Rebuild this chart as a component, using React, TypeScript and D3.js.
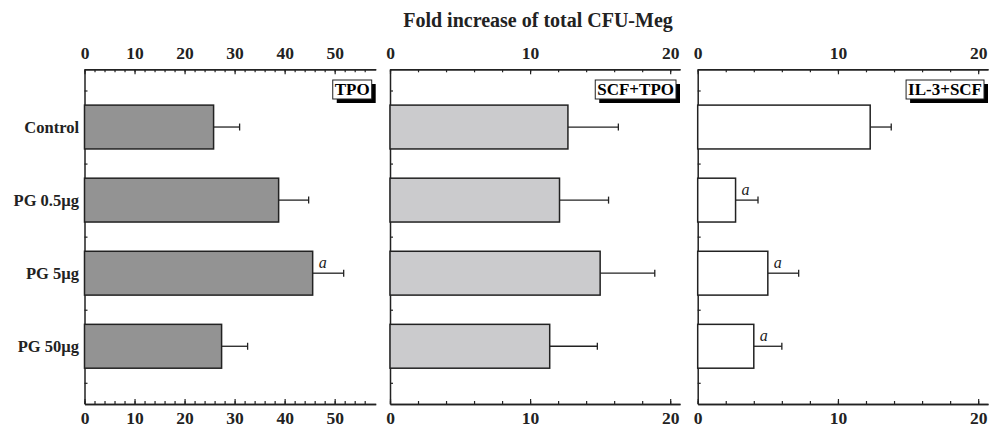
import * as d3 from "d3";
import React, { useEffect, useRef } from "react";

const categories = ["Control", "PG 0.5µg", "PG 5µg", "PG 50µg"];

const tpoMeans = [25.8, 38.8, 45.6, 27.4];
const tpoErrors = [5.2, 6.0, 6.2, 5.2];
const tpoSig = [false, false, true, false];

const scfTpoMeans = [12.7, 12.1, 15.0, 11.4];
const scfTpoErrors = [3.6, 3.5, 3.9, 3.4];
const scfTpoSig = [false, false, false, false];

const il3ScfMeans = [12.3, 2.7, 5.0, 4.0];
const il3ScfErrors = [1.5, 1.6, 2.2, 2.0];
const il3ScfSig = [false, true, true, true];

const tpoMajor = [0, 10, 20, 30, 40, 50];
const tpoMinor = d3.range(0, 58, 2);
const smallMajor = [0, 10, 20];
const smallMinor = d3.range(0, 21, 2);

const title = "Fold increase of total CFU-Meg";

type Panel = {
  label: string;
  means: number[];
  errors: number[];
  sig: boolean[];
  fill: string;
  domain: [number, number];
  range: [number, number];
  major: number[];
  minor: number[];
};

const panels: Panel[] = [
  { label: "TPO", means: tpoMeans, errors: tpoErrors, sig: tpoSig, fill: "#939393",
    domain: [0, 58.2], range: [84.5, 375.7], major: tpoMajor, minor: tpoMinor },
  { label: "SCF+TPO", means: scfTpoMeans, errors: scfTpoErrors, sig: scfTpoSig, fill: "#cbcbcd",
    domain: [0, 20.7], range: [390, 680], major: smallMajor, minor: smallMinor },
  { label: "IL-3+SCF", means: il3ScfMeans, errors: il3ScfErrors, sig: il3ScfSig, fill: "#ffffff",
    domain: [0, 20.7], range: [697.7, 988], major: smallMajor, minor: smallMinor },
];

const serif = "'Liberation Serif', 'DejaVu Serif', serif";
const ink = "#222";

const App: React.FC = () => {
  const svgRef = useRef<SVGSVGElement>(null);

  useEffect(() => {
    const svg = d3.select(svgRef.current);
    svg.selectAll("*").remove();

    const top = 69.3;
    const bottom = 404;
    const y = d3.scaleLinear().domain([0.21, 4.79]).range([top, bottom]);
    const half = 0.3;

    svg
      .append("text")
      .attr("x", 538)
      .attr("y", 27)
      .attr("text-anchor", "middle")
      .attr("font-family", serif)
      .attr("font-weight", "bold")
      .attr("font-size", 20)
      .attr("fill", ink)
      .text(title);

    // category labels
    svg
      .append("g")
      .selectAll("text")
      .data(categories)
      .join("text")
      .attr("x", 79)
      .attr("y", (_, i) => y(i + 1))
      .attr("dy", "0.35em")
      .attr("text-anchor", "end")
      .attr("font-family", serif)
      .attr("font-weight", "bold")
      .attr("font-size", 16.5)
      .attr("fill", ink)
      .text((d) => d);

    panels.forEach((p) => {
      const x = d3.scaleLinear().domain(p.domain).range(p.range);
      const g = svg.append("g");

      const styleAxis = (a: d3.Selection<SVGGElement, unknown, null, undefined>) => {
        a.select(".domain").attr("stroke", ink).attr("stroke-width", 1.5);
        a.selectAll(".tick line").attr("stroke", ink).attr("stroke-width", 1.2);
        a.selectAll(".tick text")
          .attr("font-family", serif)
          .attr("font-weight", "bold")
          .attr("font-size", 17.5)
          .attr("fill", ink);
      };

      // minor ticks
      g.append("g")
        .attr("transform", `translate(0,${top})`)
        .call(d3.axisTop(x).tickValues(p.minor).tickSize(-3).tickSizeOuter(0).tickFormat(() => ""))
        .call(styleAxis);
      g.append("g")
        .attr("transform", `translate(0,${bottom})`)
        .call(d3.axisBottom(x).tickValues(p.minor).tickSize(-3).tickSizeOuter(0).tickFormat(() => ""))
        .call(styleAxis);
      // major ticks
      g.append("g")
        .attr("transform", `translate(0,${top})`)
        .call(d3.axisTop(x).tickValues(p.major).tickSize(-5).tickSizeOuter(0).tickPadding(10).tickFormat(d3.format("d")))
        .call(styleAxis);
      g.append("g")
        .attr("transform", `translate(0,${bottom})`)
        .call(d3.axisBottom(x).tickValues(p.major).tickSize(-5).tickSizeOuter(0).tickPadding(8).tickFormat(d3.format("d")))
        .call(styleAxis);
      // left axis
      g.append("g")
        .attr("transform", `translate(${p.range[0]},0)`)
        .call(d3.axisLeft(y).tickValues(d3.range(0.5, 4.6, 0.5)).tickSize(-3).tickSizeOuter(0).tickFormat(() => ""))
        .call(styleAxis);

      // error bars
      const eb = g.append("g").attr("stroke", ink).attr("stroke-width", 1.3);
      p.means.forEach((m, i) => {
        const cy = y(i + 1);
        const xe = x(m + p.errors[i]);
        eb.append("line").attr("x1", x(m)).attr("x2", xe).attr("y1", cy).attr("y2", cy);
        eb.append("line").attr("x1", xe).attr("x2", xe).attr("y1", cy - 3.5).attr("y2", cy + 3.5);
      });

      // bars
      g.append("g")
        .selectAll("rect")
        .data(p.means)
        .join("rect")
        .attr("x", x(0))
        .attr("y", (_, i) => y(i + 1 - half))
        .attr("width", (d) => x(d) - x(0))
        .attr("height", y(1 + half) - y(1 - half))
        .attr("fill", p.fill)
        .attr("stroke", ink)
        .attr("stroke-width", 1.5);

      // significance markers
      g.append("g")
        .selectAll("text")
        .data(p.means.map((m, i) => ({ m, i })).filter((d) => p.sig[d.i]))
        .join("text")
        .attr("x", (d) => x(d.m) + 6)
        .attr("y", (d) => y(d.i + 1) - 5)
        .attr("font-family", serif)
        .attr("font-style", "italic")
        .attr("font-size", 16)
        .attr("fill", ink)
        .text("a");

      // panel label box with shadow
      const lg = g.append("g");
      const txt = lg
        .append("text")
        .attr("font-family", serif)
        .attr("font-weight", "bold")
        .attr("font-size", 17)
        .attr("fill", "#000")
        .attr("text-anchor", "end")
        .attr("x", p.range[1] - 6)
        .attr("y", 95)
        .text(p.label);
      const bb = (txt.node() as SVGTextElement).getBBox();
      const bx = bb.x - 2;
      const bw = bb.width + 4;
      const by = 80;
      const bh = 19;
      lg.insert("rect", "text")
        .attr("x", bx + 4)
        .attr("y", by + 4)
        .attr("width", bw)
        .attr("height", bh)
        .attr("fill", "#000");
      lg.insert("rect", "text")
        .attr("x", bx)
        .attr("y", by)
        .attr("width", bw)
        .attr("height", bh)
        .attr("fill", "#fff")
        .attr("stroke", ink)
        .attr("stroke-width", 1);
    });
  }, []);

  return (
    <svg
      ref={svgRef}
      width={991}
      height={429}
      style={{ position: "absolute", left: 0, top: 0, background: "#fff" }}
    />
  );
};

export default App;
